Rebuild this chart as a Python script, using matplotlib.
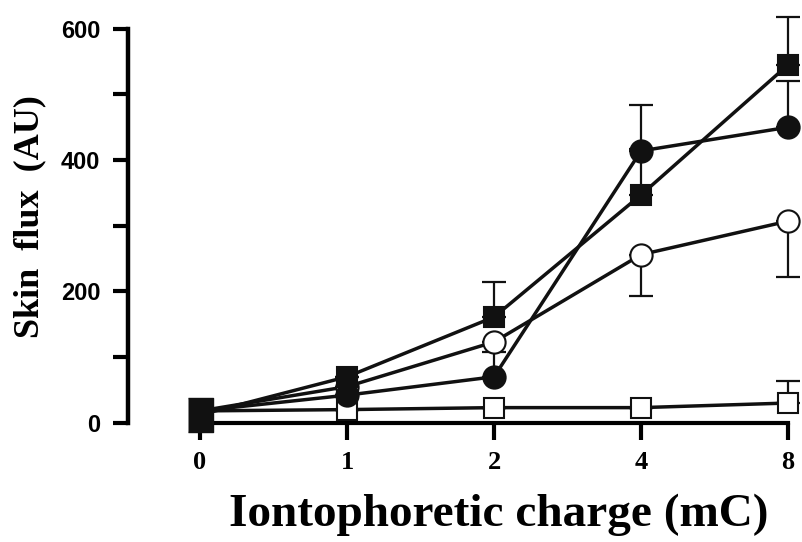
import matplotlib
matplotlib.use("Agg")
import matplotlib.pyplot as plt
import numpy as np

# iontophoretic charge (mC) and skin flux (AU), mean with one-sided SEM
charge_labels = ['0', '1', '2', '4', '8']
filled_sq = [12, 70, 161, 347, 545]
filled_sq_up = [0, 0, 54, 70, 73]
filled_ci = [18, 42, 70, 414, 450]
filled_ci_up = [0, 0, 37, 70, 70]
open_ci = [18, 55, 123, 256, 307]
open_ci_down = [0, 0, 0, 63, 85]
open_sq = [18, 20, 23, 23, 30]
open_sq_up = [0, 0, 0, 0, 34]

x = np.arange(len(charge_labels))
ink = '#111111'

fig = plt.figure(figsize=(8.02, 5.42), dpi=100)
ax = fig.add_axes([0.1596, 0.1716, 0.8404, 0.8238])
ax.set_xlim(-0.49, 4.095)
ax.set_ylim(-40, 640)

# open symbols first so the filled ones sit on top where they overlap
series = [
    (open_sq, np.zeros(5), open_sq_up, 's', 'white', 15),
    (open_ci, open_ci_down, np.zeros(5), 'o', 'white', 16),
    (filled_ci, np.zeros(5), filled_ci_up, 'o', ink, 16),
    (filled_sq, np.zeros(5), filled_sq_up, 's', ink, 15),
]

for y, lo, hi, m, face, ms in series:
    ax.plot(x, y, color=ink, lw=2.5, zorder=2, clip_on=False)
    ax.errorbar(x[1:], np.array(y)[1:], yerr=[np.array(lo)[1:], np.array(hi)[1:]],
                fmt='none', ecolor=ink, elinewidth=1.6, capsize=8.3,
                capthick=1.6, zorder=2, clip_on=False)

for y, lo, hi, m, face, ms in series:
    ax.plot(x[1:], y[1:], ls='none', marker=m, ms=ms, mfc=face, mec=ink,
            mew=1.5, zorder=3, clip_on=False)

# the overlapping points at 0 mC render as one tall dark block
block = [(-0.36, -0.5), (0.36, -0.5), (0.36, 0.5), (-0.36, 0.5)]
ax.plot(x[:1], filled_sq[:1], ls='none', marker=block, ms=25, mfc=ink,
        mec=ink, zorder=4, clip_on=False)

for s in ['top', 'right']:
    ax.spines[s].set_visible(False)
ax.spines['left'].set_bounds(0, 600)
ax.spines['left'].set_linewidth(3.2)
ax.spines['bottom'].set_position(('data', 0))
ax.spines['bottom'].set_bounds(0, 4)
ax.spines['bottom'].set_linewidth(3.0)
ax.spines['bottom'].set_zorder(1)

ax.set_yticks([0, 200, 400, 600])
ax.set_yticks([100, 300, 500], minor=True)
ax.set_yticklabels(['0', '200', '400', '600'], fontfamily='Liberation Sans',
                   fontweight='bold', fontsize=17)
ax.tick_params(axis='y', which='both', direction='out', length=11, width=3,
               pad=9)

ax.set_xticks(x)
ax.set_xticklabels(charge_labels, fontfamily='Liberation Serif',
                   fontweight='bold', fontsize=19)
ax.tick_params(axis='x', direction='out', length=12, width=3, pad=8)

fig.text(0.622, 0.05, 'Iontophoretic charge (mC)', ha='center', va='center',
         fontfamily='Liberation Serif', fontweight='bold', fontsize=34)
fig.text(0.037, 0.60, 'Skin  flux  (AU)', ha='center', va='center',
         rotation=90, fontfamily='Liberation Serif', fontweight='bold',
         fontsize=26)

fig.savefig('out.png', dpi=100, facecolor='white')
